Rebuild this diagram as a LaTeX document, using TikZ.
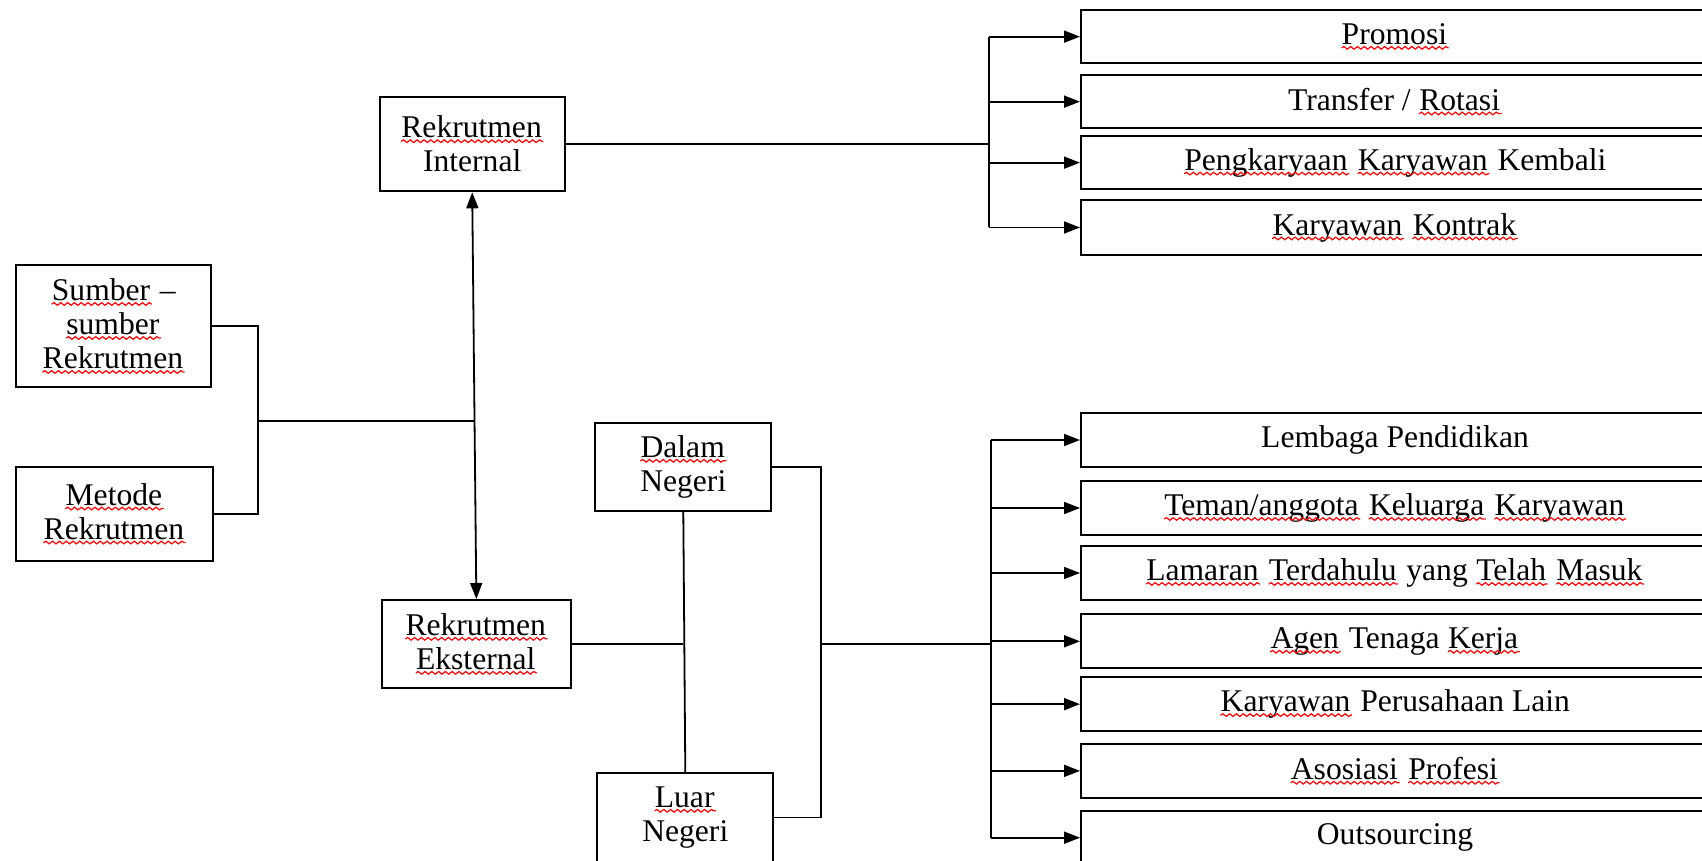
\documentclass[tikz,border=0pt]{standalone}
\usepackage{fontspec}
\setmainfont{Liberation Serif}
\usetikzlibrary{arrows.meta,decorations.pathmorphing}
\definecolor{sqred}{RGB}{230,20,20}
\newcommand\sqw[1]{\tikz[baseline=(sqw.base),x=1pt,y=1pt]{\node[inner sep=0pt,outer sep=0pt,draw=none,fill=none,minimum width=0pt,minimum height=0pt,anchor=center,text width=,align=none] (sqw) {#1};
  \draw[sqred,line width=0.65pt,line cap=round,decorate,decoration={snake,amplitude=0.65pt,segment length=3.4pt}] ([yshift=-1.7pt]sqw.base west) -- ([yshift=-1.7pt,xshift=0.6pt]sqw.base east);}}
\begin{document}
\begin{tikzpicture}[x=0.5pt,y=-0.5pt,
  box/.style={draw,line width=1pt,inner sep=0pt,align=center,font=\fontsize{15.8}{17}\selectfont},
  wide/.style={box,minimum width=314pt,minimum height=27pt},
  con/.style={line width=0.9pt},
  tip/.style={-{Triangle[length=8pt,width=6pt]}},
  both/.style={{Triangle[length=8pt,width=6pt]}-{Triangle[length=8pt,width=6pt]}}]
\useasboundingbox (0,0) rectangle (1702,861);
\clip (0,0) rectangle (1702,861);
\fill[white] (0,0) rectangle (1702,861);

% left / middle nodes
\node[box,minimum width=92.6pt,minimum height=47.3pt] (int) at (472.2,144) {\sqw{Rekrutmen}\\Internal};
\node[box,minimum width=94.35pt,minimum height=44.15pt] (ext) at (476.35,644.15) {\sqw{Rekrutmen}\\\sqw{Eksternal}};
\node[box,minimum width=97.5pt,minimum height=61pt] (sb) at (113.5,326.3) {\sqw{Sumber} --\\\sqw{sumber}\\\sqw{Rekrutmen}};
\node[box,minimum width=98.5pt,minimum height=47.15pt] (mr) at (114.5,513.85) {\sqw{Metode}\\\sqw{Rekrutmen}};
\node[box,minimum width=88pt,minimum height=44.15pt] (dn) at (683.3,466.85) {\sqw{Dalam}\\Negeri};
\node[box,minimum width=88pt,minimum height=44.15pt] (lnn) at (685.3,817.45) {\sqw{Luar}\\Negeri};

% right top boxes
\node[wide,minimum height=26.65pt] (p1) at (1395,36.65) {\sqw{Promosi}};
\node[wide,minimum height=26.65pt] (p2) at (1395,101.65) {Transfer / \sqw{Rotasi}};
\node[wide,minimum height=26.65pt] (p3) at (1395,162.65) {\sqw{Pengkaryaan} \sqw{Karyawan} Kembali};
\node[wide,minimum height=27.5pt] (p4) at (1395,227.5) {\sqw{Karyawan} \sqw{Kontrak}};

% right bottom boxes
\node[wide,minimum height=26.7pt] (q1) at (1395,440) {Lembaga Pendidikan};
\node[wide] (q2) at (1395,508) {\sqw{Teman/anggota} \sqw{Keluarga} \sqw{Karyawan}};
\node[wide] (q3) at (1395,573) {\sqw{Lamaran} \sqw{Terdahulu} yang \sqw{Telah} \sqw{Masuk}};
\node[wide] (q4) at (1395,641.3) {\sqw{Agen} Tenaga \sqw{Kerja}};
\node[wide,minimum height=26.85pt] (q5) at (1395,704.15) {\sqw{Karyawan} Perusahaan Lain};
\node[wide,minimum height=26.85pt] (q6) at (1395,770.85) {\sqw{Asosiasi} \sqw{Profesi}};
\node[wide] (q7) at (1395,837.7) {Outsourcing};

% coordinates
\coordinate (bx1) at (989,0);
\coordinate (bx2) at (991,0);
\coordinate (lb) at (258,421);
\coordinate (jl) at (474.5,421);
\coordinate (rb) at (821,644);

% left bracket
\draw[con] (sb.east) -| (lb) |- (mr.east);
\draw[con] (lb) -- (jl);
\draw[con,both] (int.south) -- (ext.north);

% middle
\draw[con] (ext.east) -- (ext.east -| dn.south);
\draw[con] (dn.south) -- (lnn.north);
\draw[con] (dn.east) -| (rb) |- (lnn.east);
\draw[con] (rb) -- (rb -| bx2);

% internal bus
\draw[con] (int.east) -- (int.east -| bx1);
\draw[con] (bx1 |- p1.west) -- (bx1 |- p4.west);
\foreach \n in {p1,p2,p3,p4} \draw[con,tip] (bx1 |- \n.west) -- (\n.west);

% external bus
\draw[con] (bx2 |- q1.west) -- (bx2 |- q7.west);
\foreach \n in {q1,q2,q3,q4,q5,q6,q7} \draw[con,tip] (bx2 |- \n.west) -- (\n.west);
\end{tikzpicture}
\end{document}
